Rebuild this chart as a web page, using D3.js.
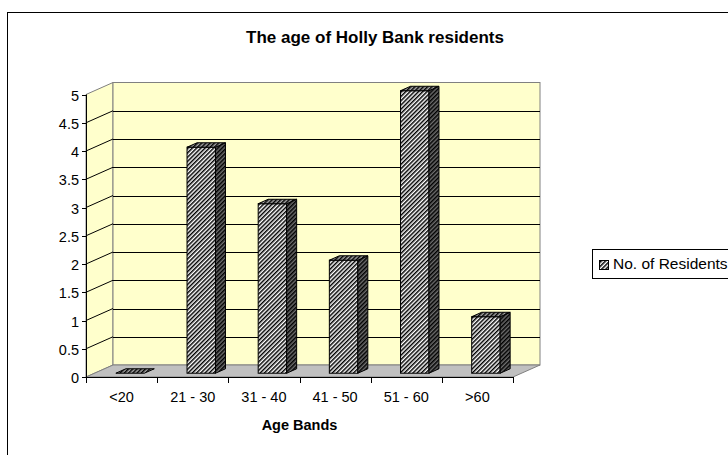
<!DOCTYPE html>
<html>
<head>
<meta charset="utf-8">
<script src="https://cdnjs.cloudflare.com/ajax/libs/d3/7.8.5/d3.min.js"></script>
<style>
  body { margin: 0; background: #fff; }
  #graf { width: 728px; height: 455px; overflow: hidden; }
  text { font-family: "Liberation Sans", Arial, sans-serif; fill: #000; }
</style>
</head>
<body>
<div id="graf"></div>
<script>
// I. Datos
categorias = ['<20', '21 - 30', '31 - 40', '41 - 50', '51 - 60', '>60']
residentes = [0, 4, 3, 2, 5, 1]
ticksY = [0, 0.5, 1, 1.5, 2, 2.5, 3, 3.5, 4, 4.5, 5]
serie = 'No. of Residents'

// II. Configuración
ancho_total = 728
alto_total = 455

// profundidad del efecto 3D
prof = { dx: 27, dy: -12 }

svg = d3.select('#graf').append('svg')
        .attr('width', ancho_total)
        .attr('height', alto_total)

defs = svg.append('defs')

function rayas(id, fondo, tinta) {
  p = defs.append('pattern')
          .attr('id', id)
          .attr('patternUnits', 'userSpaceOnUse')
          .attr('width', 3)
          .attr('height', 3)
          .attr('patternTransform', 'rotate(45)')
  p.append('rect').attr('width', 3).attr('height', 3).attr('fill', fondo)
  p.append('rect').attr('width', 1.5).attr('height', 3).attr('fill', tinta)
}
rayas('frente', '#fff', '#000')
rayas('lado', '#6e6e6e', '#000')
rayas('tapa', '#a8a8a8', '#000')

// marco exterior
svg.append('rect')
   .attr('x', 7.5).attr('y', 12.5)
   .attr('width', 740).attr('height', 460)
   .attr('fill', '#fff')
   .attr('stroke', '#000')

// escaladores
y = d3.scaleLinear()
      .domain([0, 5])
      .range([377, 94.5])

x = d3.scaleBand()
      .domain(categorias)
      .range([86, 513])
      .paddingInner(0)
      .paddingOuter(0)

x0 = x.range()[0]
x1 = x.range()[1]

// III. Paredes
g = svg.append('g')

// pared lateral
g.append('polygon')
 .attr('points', [[x0, y(0)], [x0 + prof.dx, y(0) + prof.dy], [x0 + prof.dx, y(5) + prof.dy], [x0, y(5)]].join(' '))
 .attr('fill', '#ffffcc')
 .attr('stroke', '#808080')

// pared del fondo
g.append('rect')
 .attr('x', x0 + prof.dx)
 .attr('y', y(5) + prof.dy)
 .attr('width', x1 - x0)
 .attr('height', y(0) - y(5))
 .attr('fill', '#ffffcc')
 .attr('stroke', '#808080')

// piso
g.append('polygon')
 .attr('points', [[x0, y(0)], [x1, y(0)], [x1 + prof.dx, y(0) + prof.dy], [x0 + prof.dx, y(0) + prof.dy]].join(' '))
 .attr('fill', '#c0c0c0')
 .attr('stroke', '#808080')

// líneas de cuadrícula
rejilla = ticksY.filter(d => d > 0 && d < 5)
g.selectAll('.rej-fondo')
 .data(rejilla)
 .enter()
 .append('line')
   .attr('x1', x0 + prof.dx)
   .attr('x2', x1 + prof.dx)
   .attr('y1', d => Math.round(y(d) + prof.dy) + 0.5)
   .attr('y2', d => Math.round(y(d) + prof.dy) + 0.5)
   .attr('stroke', '#000')
g.selectAll('.rej-lado')
 .data(rejilla)
 .enter()
 .append('line')
   .attr('x1', x0)
   .attr('x2', x0 + prof.dx)
   .attr('y1', d => y(d))
   .attr('y2', d => y(d) + prof.dy)
   .attr('stroke', '#000')

// IV. Barras 3D
bw = x.bandwidth() * 0.4
bdx = 10
bdy = prof.dy * bdx / prof.dx
offX = (prof.dx - bdx) / 2
offY = prof.dy * offX / prof.dx

datos = categorias.map((c, i) => ({ cat: c, v: residentes[i] }))

barras = g.selectAll('.barra')
          .data(datos)
          .enter()
          .append('g')

barras.each(function(d) {
  b = d3.select(this)
  xl = x(d.cat) + (x.bandwidth() - bw) / 2 + offX
  xr = xl + bw
  base = y(0) + offY
  top_ = y(d.v) + offY
  if (d.v > 0) {
    b.append('rect')
     .attr('x', xl).attr('y', top_)
     .attr('width', bw).attr('height', base - top_)
     .attr('fill', 'url(#frente)')
     .attr('stroke', '#000')
    b.append('polygon')
     .attr('points', [[xr, top_], [xr + bdx, top_ + bdy], [xr + bdx, base + bdy], [xr, base]].join(' '))
     .attr('fill', 'url(#lado)')
     .attr('stroke', '#000')
  }
  b.append('polygon')
   .attr('points', [[xl, top_], [xl + bdx, top_ + bdy], [xr + bdx, top_ + bdy], [xr, top_]].join(' '))
   .attr('fill', 'url(#tapa)')
   .attr('stroke', '#000')
})

// V. Ejes
svg.append('line')
   .attr('x1', x0 + 0.5).attr('x2', x0 + 0.5)
   .attr('y1', y(0)).attr('y2', y(5))
   .attr('stroke', '#000')

yt = svg.selectAll('.ty')
        .data(ticksY)
        .enter()
        .append('g')
        .attr('transform', d => `translate(0, ${Math.round(y(d)) + 0.5})`)
yt.append('line')
  .attr('x1', x0 - 4).attr('x2', x0)
  .attr('stroke', '#000')
yt.append('text')
  .attr('x', x0 - 7)
  .attr('dy', '0.35em')
  .attr('text-anchor', 'end')
  .style('font-size', '14.5px')
  .text(d => d)

svg.append('line')
   .attr('x1', x0).attr('x2', x1)
   .attr('y1', Math.round(y(0)) + 0.5).attr('y2', Math.round(y(0)) + 0.5)
   .attr('stroke', '#000')

limites = categorias.map(c => x(c)).concat([x1])
svg.selectAll('.tx')
   .data(limites)
   .enter()
   .append('line')
     .attr('x1', d => Math.round(d) + 0.5)
     .attr('x2', d => Math.round(d) + 0.5)
     .attr('y1', y(0))
     .attr('y2', y(0) + 6)
     .attr('stroke', '#000')

svg.selectAll('.lx')
   .data(categorias)
   .enter()
   .append('text')
     .attr('x', d => x(d) + x.bandwidth() / 2)
     .attr('y', 397)
     .attr('dy', '0.35em')
     .attr('text-anchor', 'middle')
     .style('font-size', '14.5px')
     .text(d => d)

// títulos
svg.append('text')
   .attr('x', 375)
   .attr('y', 37)
   .attr('dy', '0.35em')
   .attr('text-anchor', 'middle')
   .style('font-size', '17px')
   .style('font-weight', 'bold')
   .text('The age of Holly Bank residents')

svg.append('text')
   .attr('x', (x0 + x1) / 2)
   .attr('y', 425)
   .attr('dy', '0.35em')
   .attr('text-anchor', 'middle')
   .style('font-size', '14.5px')
   .style('font-weight', 'bold')
   .text('Age Bands')

// VI. Leyenda
ley = svg.append('g')
ley.append('rect')
   .attr('x', 592.5).attr('y', 249.5)
   .attr('width', 150).attr('height', 29)
   .attr('fill', '#fff')
   .attr('stroke', '#000')
ley.append('rect')
   .attr('x', 599.5).attr('y', 260.5)
   .attr('width', 9).attr('height', 9)
   .attr('fill', 'url(#frente)')
   .attr('stroke', '#000')
ley.append('text')
   .attr('x', 613)
   .attr('y', 264)
   .attr('dy', '0.35em')
   .style('font-size', '15.5px')
   .text(serie)
</script>
</body>
</html>
